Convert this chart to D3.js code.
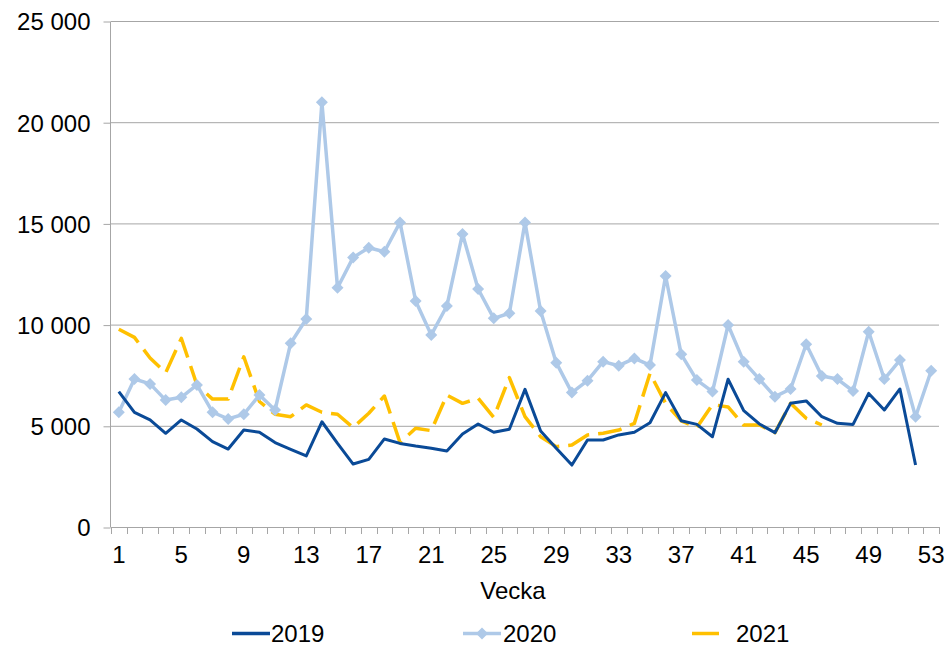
<!DOCTYPE html>
<html>
<head>
<meta charset="utf-8">
<script src="https://cdn.jsdelivr.net/npm/d3@7"></script>
<style>
  html, body { margin: 0; padding: 0; background: #fff; }
  svg { display: block; font-family: "Liberation Sans", Arial, sans-serif; }
</style>
</head>
<body>
<svg id="chart" width="951" height="646"></svg>
<script>
const weeks = d3.range(1, 54);
const tickWeeks = [1, 5, 9, 13, 17, 21, 25, 29, 33, 37, 41, 45, 49, 53];
const yTicks = [0, 5000, 10000, 15000, 20000, 25000];
const seriesNames = ["2019", "2020", "2021"];

const values2019 = [6690, 5660, 5290, 4630, 5290, 4840, 4220, 3850, 4790, 4680,
  4170, 3840, 3510, 5200, 4130, 3110, 3340, 4350, 4130, 4000,
  3890, 3750, 4590, 5090, 4680, 4830, 6800, 4740, 3890, 3060,
  4300, 4300, 4550, 4680, 5150, 6640, 5250, 5070, 4460, 7300,
  5750, 5090, 4660, 6110, 6230, 5450, 5120, 5070, 6600, 5780,
  6820, 3060];
const values2020 = [5670, 7310, 7070, 6270, 6410, 7020, 5670, 5340, 5570, 6520,
  5780, 9080, 10280, 20980, 11820, 13320, 13800, 13600, 15050, 11170,
  9490, 10920, 14480, 11760, 10310, 10560, 15050, 10670, 8120, 6640,
  7230, 8170, 7970, 8330, 8000, 12400, 8530, 7260, 6690, 9980,
  8170, 7310, 6440, 6820, 9030, 7460, 7310, 6720, 9650, 7310,
  8250, 5450, 7720];
const values2021 = [9770, 9370, 8350, 7620, 9320, 7020, 6320, 6320, 8410, 6200,
  5570, 5450, 6030, 5670, 5570, 4910, 5620, 6470, 4170, 4880,
  4760, 6520, 6110, 6360, 5420, 7380, 5450, 4460, 3970, 4050,
  4550, 4630, 4790, 5120, 7590, 6110, 5240, 4910, 6050, 5930,
  5040, 5040, 4660, 6110, 5370, 5040];

const colors = { "2019": "#0a4a97", "2020": "#aec9e8", "2021": "#ffc000" };
const gridColor = "#a6a6a6";
const fontSize = 24;

const svg = d3.select("#chart");
const x = d3.scaleBand().domain(weeks).range([111, 939]).padding(0);
const y = d3.scaleLinear().domain([0, 25000]).range([527, 21]);
const cx = w => x(w) + x.bandwidth() / 2;

// gridlines
svg.append("g").selectAll("line").data(yTicks.filter(t => t > 0)).join("line")
  .attr("x1", 111).attr("x2", 939)
  .attr("y1", d => y(d) + 0.5).attr("y2", d => y(d) + 0.5)
  .attr("stroke", gridColor).attr("stroke-width", 1);

// y axis
const yAxis = d3.axisLeft(y).tickValues(yTicks).tickSize(7)
  .tickFormat(d => d3.format(",")(d).replace(/,/g, "\u00a0"));
const gy = svg.append("g").attr("transform", "translate(110.5,0.5)").call(yAxis);
gy.select(".domain").attr("stroke", gridColor).attr("d", "M-7,21V526.5H0V21");
gy.select(".domain").attr("d", `M0,${y(25000)}V${y(0)}`);
gy.selectAll(".tick line").attr("stroke", gridColor);
gy.selectAll(".tick text").attr("font-size", fontSize).attr("fill", "#000")
  .attr("font-family", '"Liberation Sans", Arial, sans-serif')
  .attr("x", -20).attr("dy", "0.35em");

// x axis baseline
svg.append("line").attr("x1", 111).attr("x2", 939)
  .attr("y1", y(0) + 0.5).attr("y2", y(0) + 0.5)
  .attr("stroke", gridColor).attr("stroke-width", 1);
// x tick marks between categories
const boundaries = weeks.map(w => x(w)).concat([x(53) + x.bandwidth()]);
svg.append("g").selectAll("line").data(boundaries).join("line")
  .attr("x1", d => Math.round(d) + 0.5).attr("x2", d => Math.round(d) + 0.5)
  .attr("y1", y(0)).attr("y2", y(0) + 7)
  .attr("stroke", gridColor).attr("stroke-width", 1);
// x tick labels
svg.append("g").selectAll("text").data(tickWeeks).join("text")
  .attr("x", d => cx(d)).attr("y", 563)
  .attr("text-anchor", "middle").attr("font-size", fontSize).attr("fill", "#000")
  .text(d => d);
svg.append("text").attr("x", 513).attr("y", 599).attr("text-anchor", "middle")
  .attr("font-size", fontSize).attr("fill", "#000").text("Vecka");

const line = d3.line().x((d, i) => cx(weeks[i])).y(d => y(d));

// 2021 dashed
svg.append("path").datum(values2021).attr("d", line)
  .attr("fill", "none").attr("stroke", colors["2021"]).attr("stroke-width", 3.5)
  .attr("stroke-dasharray", "24,9").attr("stroke-linejoin", "round");

// 2020 with diamonds
svg.append("path").datum(values2020).attr("d", line)
  .attr("fill", "none").attr("stroke", colors["2020"]).attr("stroke-width", 3.5)
  .attr("stroke-linejoin", "round");
const diamond = r => `M0,${-r}L${r},0L0,${r}L${-r},0Z`;
svg.append("g").selectAll("path").data(values2020).join("path")
  .attr("transform", (d, i) => `translate(${cx(weeks[i])},${y(d)})`)
  .attr("d", diamond(6)).attr("fill", colors["2020"]);

// 2019 solid
svg.append("path").datum(values2019).attr("d", line)
  .attr("fill", "none").attr("stroke", colors["2019"]).attr("stroke-width", 3)
  .attr("stroke-linejoin", "round");

// legend
const legend = svg.append("g");
const legendItems = [
  { name: seriesNames[0], x1: 232, x2: 270, tx: 271 },
  { name: seriesNames[1], x1: 463, x2: 501, tx: 503 },
  { name: seriesNames[2], x1: 692, x2: 719, tx: 736 }
];
const ly = 633.5;
legendItems.forEach(it => {
  legend.append("line").attr("x1", it.x1).attr("x2", it.x2).attr("y1", ly).attr("y2", ly)
    .attr("stroke", colors[it.name]).attr("stroke-width", 3.5);
  if (it.name === "2020") {
    legend.append("path").attr("transform", `translate(${(it.x1 + it.x2) / 2},${ly})`)
      .attr("d", diamond(6)).attr("fill", colors[it.name]);
  }
  legend.append("text").attr("x", it.tx).attr("y", 642).attr("font-size", fontSize)
    .attr("fill", "#000").text(it.name);
});
</script>
</body>
</html>
